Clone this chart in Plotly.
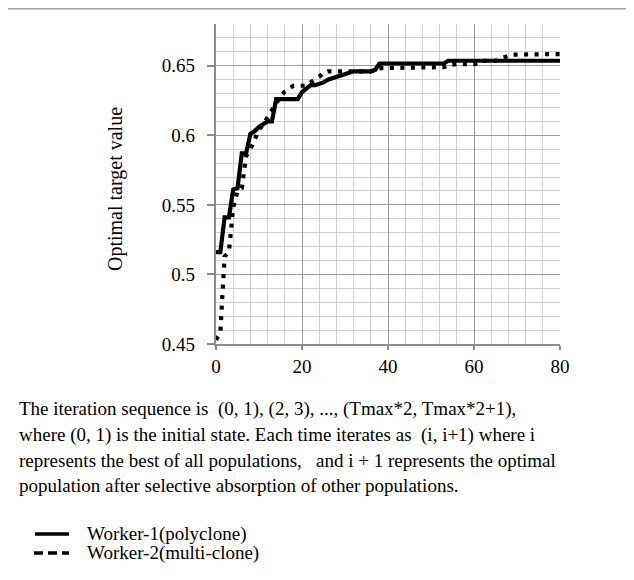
import plotly.graph_objects as go

# ---------------- data ----------------
iterations = list(range(0, 81))

worker1 = [0.516, 0.516, 0.541, 0.541, 0.561, 0.562, 0.587, 0.587, 0.601, 0.603,
           0.606, 0.608, 0.610, 0.610, 0.626, 0.626, 0.626, 0.626, 0.626, 0.626,
           0.631, 0.634, 0.636, 0.636, 0.637, 0.638, 0.640, 0.641, 0.642, 0.643,
           0.644, 0.645, 0.646, 0.646, 0.646, 0.646, 0.646, 0.647, 0.6516, 0.6516,
           0.6516, 0.6516, 0.6516, 0.6516, 0.6516, 0.6516, 0.6516, 0.6516, 0.6516, 0.6516,
           0.6516, 0.6516, 0.6516, 0.6516, 0.6536, 0.6536, 0.6536, 0.6536, 0.6536, 0.6536,
           0.6536, 0.6536, 0.6536, 0.6536, 0.6536, 0.6536, 0.6536, 0.6536, 0.6536, 0.6536,
           0.6536, 0.6536, 0.6536, 0.6536, 0.6536, 0.6536, 0.6536, 0.6536, 0.6536, 0.6536,
           0.6536]

worker2 = [0.453, 0.458, 0.513, 0.516, 0.548, 0.560, 0.562, 0.585, 0.590, 0.597,
           0.604, 0.608, 0.613, 0.619, 0.624, 0.628, 0.6315, 0.634, 0.6356, 0.6356,
           0.6356, 0.6356, 0.638, 0.640, 0.642, 0.645, 0.646, 0.646, 0.646, 0.646,
           0.646, 0.646, 0.646, 0.646, 0.646, 0.646, 0.646, 0.647, 0.6483, 0.6483,
           0.6483, 0.6483, 0.6483, 0.6483, 0.6483, 0.6483, 0.6488, 0.6488, 0.6488, 0.6488,
           0.6488, 0.6488, 0.6488, 0.649, 0.6505, 0.651, 0.6512, 0.6512, 0.6512, 0.6512,
           0.6512, 0.652, 0.6536, 0.6536, 0.6536, 0.6536, 0.655, 0.656, 0.657, 0.658,
           0.658, 0.658, 0.658, 0.658, 0.658, 0.658, 0.658, 0.658, 0.658, 0.658,
           0.6584]

series_names = ["Worker-1(polyclone)", "Worker-2(multi-clone)"]
y_title = "Optimal target value"
x_ticks = [0, 20, 40, 60, 80]
y_ticks = [0.45, 0.5, 0.55, 0.6, 0.65]
y_tick_text = ["0.45", "0.5", "0.55", "0.6", "0.65"]
caption_lines = [
    "The iteration sequence is\u00a0 (0, 1), (2, 3), ..., (Tmax*2, Tmax*2+1),",
    "where (0, 1) is the initial state. Each time iterates as\u00a0 (i, i+1) where i",
    "represents the best of all populations,\u00a0\u00a0 and i + 1 represents the optimal",
    "population after selective absorption of other populations.",
]

# ---------------- layout geometry ----------------
# page body has an 8px default margin, so the figure is 8px smaller
OFF = 8
W, H = 634 - OFF, 580 - OFF
L, R, T, B = 216 - OFF, 74, 24 - OFF, 236
PW, PH = W - L - R, H - T - B


def px(x):  # reference page pixel -> paper x
    return (x - OFF - L) / PW


def py(y):  # reference page pixel -> paper y
    return 1 - (y - OFF - T) / PH


FONT = "Liberation Serif, Times New Roman, serif"
FS = 19

fig = go.Figure()
fig.add_trace(go.Scatter(x=iterations, y=worker2, mode="lines", name=series_names[1],
                         line=dict(color="black", width=4.2, dash="4px,6.5px"),
                         showlegend=False))
fig.add_trace(go.Scatter(x=iterations, y=worker1, mode="lines", name=series_names[0],
                         line=dict(color="black", width=4.2),
                         showlegend=False))

fig.update_layout(
    width=W, height=H, autosize=False,
    margin=dict(l=L, r=R, t=T, b=B),
    paper_bgcolor="white", plot_bgcolor="white",
    font=dict(family=FONT, size=FS, color="black"),
)
fig.update_xaxes(
    range=[0, 80], tickvals=x_ticks, showline=True, linecolor="#8c8c8c", linewidth=2.2,
    ticks="outside", ticklen=4, tickcolor="#8c8c8c", tickwidth=2,
    showgrid=True, gridcolor="#9a9a9a", gridwidth=1.3, zeroline=False,
    minor=dict(dtick=4, showgrid=True, gridcolor="#cfcfcf", gridwidth=1.3),
    tickfont=dict(family=FONT, size=FS, color="black"),
)
fig.update_yaxes(
    range=[0.45, 0.68], tickvals=y_ticks, ticktext=y_tick_text, showline=True,
    linecolor="#8c8c8c", linewidth=2.2,
    ticks="outside", ticklen=7, tickcolor="#8c8c8c", tickwidth=1.5,
    showgrid=True, gridcolor="#9a9a9a", gridwidth=1.3, zeroline=False,
    minor=dict(dtick=0.01, showgrid=True, gridcolor="#cfcfcf", gridwidth=1.3),
    tickfont=dict(family=FONT, size=FS, color="black"),
    ticklabelstandoff=8,
)

annotations = [
    dict(text=y_title, x=px(115), y=py(189), xref="paper", yref="paper",
         xanchor="center", yanchor="middle", textangle=-90, showarrow=False,
         font=dict(family=FONT, size=20, color="black")),
]
line_y = [409, 435, 460, 485]
for text, yy in zip(caption_lines, line_y):
    annotations.append(dict(text=text, x=px(17), y=py(yy), xref="paper", yref="paper",
                            xanchor="left", yanchor="middle", showarrow=False,
                            font=dict(family=FONT, size=FS, color="black")))
legend_y = [534, 553]
for name, yy in zip(series_names, legend_y):
    annotations.append(dict(text=name, x=px(85), y=py(yy), xref="paper", yref="paper",
                            xanchor="left", yanchor="middle", showarrow=False,
                            font=dict(family=FONT, size=FS, color="black")))

shapes = [
    # outer frame (top and left visible)
    dict(type="line", xref="paper", yref="paper", x0=px(7), x1=px(650), y0=py(8.5), y1=py(8.5),
         line=dict(color="#a0a0a0", width=2)),
    dict(type="line", xref="paper", yref="paper", x0=px(7), x1=px(7), y0=py(8.5), y1=py(600),
         line=dict(color="#a0a0a0", width=2)),
    # legend samples
    dict(type="line", xref="paper", yref="paper", x0=px(35), x1=px(69), y0=py(534), y1=py(534),
         line=dict(color="black", width=3.5)),
    dict(type="line", xref="paper", yref="paper", x0=px(34), x1=px(69), y0=py(553), y1=py(553),
         line=dict(color="black", width=3.5, dash="9px,5px")),
]

fig.update_layout(annotations=annotations, shapes=shapes)
fig.write_html("out.html")
